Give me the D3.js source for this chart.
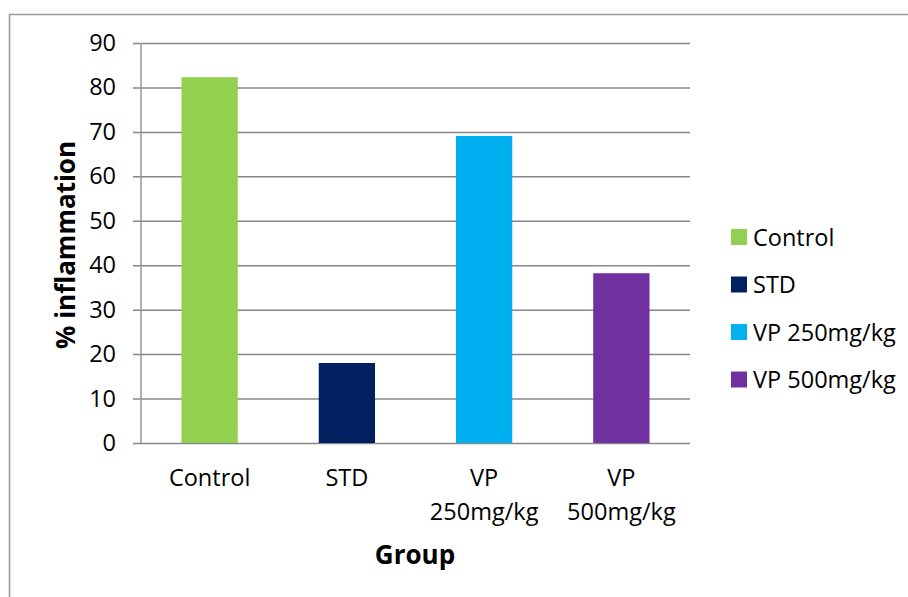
<!DOCTYPE html>
<html>
<head>
<meta charset="utf-8">
<script src="https://cdn.jsdelivr.net/npm/d3@7"></script>
<style>
  body { margin: 0; background: #fff; }
  svg { display: block; font-family: "Open Sans", sans-serif; }
</style>
</head>
<body>
<svg id="chart"></svg>
<script>
const width = 908;
const height = 597;

// data
const groups = ['Control', 'STD', 'VP 250mg/kg', 'VP 500mg/kg'];
const tickLines = [['Control'], ['STD'], ['VP', '250mg/kg'], ['VP', '500mg/kg']];
const values = [82.3, 18.0, 69.1, 38.2];
const colors = ['#92D050', '#002060', '#00B0F0', '#7030A0'];
const yTicks = [0, 10, 20, 30, 40, 50, 60, 70, 80, 90];

const plot = {left: 141, right: 690, top: 43, bottom: 443};
const fs = 23.5;

const svg = d3.select('#chart')
    .attr('width', width)
    .attr('height', height);

// chart frame
svg.append('rect')
    .attr('x', 9.5).attr('y', 14.5)
    .attr('width', width + 10).attr('height', height + 10)
    .attr('fill', 'none')
    .attr('stroke', '#999')
    .attr('stroke-width', 1.5);

const x = d3.scaleBand().domain(groups).range([plot.left, plot.right]).padding(0);
const y = d3.scaleLinear().domain([0, 90]).range([plot.bottom, plot.top]);

// gridlines + y axis
const yAxis = svg.append('g')
    .attr('transform', `translate(${plot.left},0)`)
    .call(d3.axisLeft(y).tickValues(yTicks).tickSize(-(plot.right - plot.left)).tickPadding(25));
yAxis.select('.domain').remove();
yAxis.selectAll('.tick line')
    .attr('stroke', '#888')
    .attr('stroke-width', 1.5)
    .attr('x1', -8);
yAxis.selectAll('.tick text')
    .attr('font-size', fs)
    .attr('fill', '#000')
    .attr('font-family', '"Open Sans", sans-serif');

// vertical axis line
svg.append('line')
    .attr('x1', plot.left).attr('x2', plot.left)
    .attr('y1', y(90)).attr('y2', y(0))
    .attr('stroke', '#999')
    .attr('stroke-width', 1.5);

// bars
const barW = x.bandwidth() * 0.41;
svg.append('g').selectAll('rect').data(groups)
    .enter().append('rect')
    .attr('x', d => x(d) + (x.bandwidth() - barW) / 2)
    .attr('y', (d, i) => y(values[i]))
    .attr('width', barW)
    .attr('height', (d, i) => y(0) - y(values[i]))
    .attr('fill', (d, i) => colors[i]);

// category labels
const cat = svg.append('g');
groups.forEach((g, i) => {
    const t = cat.append('text')
        .attr('x', x(g) + x.bandwidth() / 2)
        .attr('y', 486)
        .attr('text-anchor', 'middle')
        .attr('font-size', fs)
        .attr('fill', '#000');
    tickLines[i].forEach((line, j) => {
        t.append('tspan')
            .attr('x', x(g) + x.bandwidth() / 2)
            .attr('dy', j === 0 ? 0 : 34)
            .text(line);
    });
});

// axis titles
svg.append('text')
    .attr('x', 415).attr('y', 564)
    .attr('text-anchor', 'middle')
    .attr('font-size', 26)
    .attr('font-weight', 'bold')
    .text('Group');

svg.append('text')
    .attr('transform', 'translate(75,245) rotate(-90)')
    .attr('text-anchor', 'middle')
    .attr('font-size', 26)
    .attr('font-weight', 'bold')
    .text('% inflammation');

// legend
const legend = svg.append('g').attr('transform', 'translate(731,229)');
groups.forEach((g, i) => {
    const row = legend.append('g').attr('transform', `translate(0,${i * 47.5})`);
    row.append('rect')
        .attr('width', 16).attr('height', 16)
        .attr('fill', colors[i]);
    row.append('text')
        .attr('x', 22).attr('y', 16.5)
        .attr('font-size', fs)
        .attr('fill', '#000')
        .text(g);
});
</script>
</body>
</html>
